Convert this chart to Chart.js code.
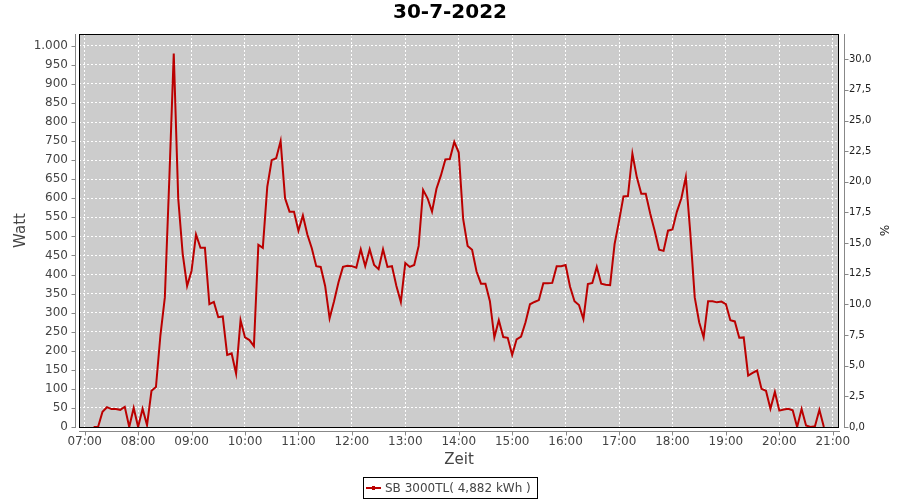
<!DOCTYPE html>
<html lang="de">
<head>
<meta charset="utf-8">
<title>30-7-2022</title>
<script src="https://cdn.jsdelivr.net/npm/chart.js@4.4.0/dist/chart.umd.min.js"></script>
<style>
  html, body { margin: 0; padding: 0; background: #fff; }
  #wrap { width: 900px; height: 500px; }
</style>
</head>
<body>
<div id="wrap"><canvas id="grafik" width="900" height="500"></canvas></div>
<script>
const titel = '30-7-2022';
const legendeText = 'SB 3000TL( 4,882 kWh )';
const stunden = ['07:00', '08:00', '09:00', '10:00', '11:00', '12:00', '13:00', '14:00',
    '15:00', '16:00', '17:00', '18:00', '19:00', '20:00', '21:00'];

// Messzeitpunkte (5-Minuten-Werte) und Leistung in Watt
const zeiten = [
    '07:10', '07:15', '07:20', '07:25', '07:30', '07:35', '07:40', '07:45', '07:50', '07:55',
    '08:00', '08:05', '08:10', '08:15', '08:20', '08:25', '08:30', '08:35', '08:40', '08:45', '08:50', '08:55',
    '09:00', '09:05', '09:10', '09:15', '09:20', '09:25', '09:30', '09:35', '09:40', '09:45', '09:50', '09:55',
    '10:00', '10:05', '10:10', '10:15', '10:20', '10:25', '10:30', '10:35', '10:40', '10:45', '10:50', '10:55',
    '11:00', '11:05', '11:10', '11:15', '11:20', '11:25', '11:30', '11:35', '11:40', '11:45', '11:50', '11:55',
    '12:00', '12:05', '12:10', '12:15', '12:20', '12:25', '12:30', '12:35', '12:40', '12:45', '12:50', '12:55',
    '13:00', '13:05', '13:10', '13:15', '13:20', '13:25', '13:30', '13:35', '13:40', '13:45', '13:50', '13:55',
    '14:00', '14:05', '14:10', '14:15', '14:20', '14:25', '14:30', '14:35', '14:40', '14:45', '14:50', '14:55',
    '15:00', '15:05', '15:10', '15:15', '15:20', '15:25', '15:30', '15:35', '15:40', '15:45', '15:50', '15:55',
    '16:00', '16:05', '16:10', '16:15', '16:20', '16:25', '16:30', '16:35', '16:40', '16:45', '16:50', '16:55',
    '17:00', '17:05', '17:10', '17:15', '17:20', '17:25', '17:30', '17:35', '17:40', '17:45', '17:50', '17:55',
    '18:00', '18:05', '18:10', '18:15', '18:20', '18:25', '18:30', '18:35', '18:40', '18:45', '18:50', '18:55',
    '19:00', '19:05', '19:10', '19:15', '19:20', '19:25', '19:30', '19:35', '19:40', '19:45', '19:50', '19:55',
    '20:00', '20:05', '20:10', '20:15', '20:20', '20:25', '20:30', '20:35', '20:40', '20:45', '20:50'
];
const watt = [
    0, 0, 40, 52, 47, 47, 45, 53, 0, 50,
    0, 48, 5, 95, 105, 240, 340, 650, 980, 600, 455, 370,
    410, 505, 470, 470, 322, 328, 288, 290, 189, 193, 140, 280,
    235, 228, 212, 478, 470, 630, 700, 705, 750, 600, 565, 565,
    515, 555, 505, 469, 422, 420, 370, 285, 330, 380, 420, 423,
    422, 418, 466, 422, 466, 425, 414, 466, 420, 422, 370, 328,
    430, 420, 425, 475, 622, 600, 565, 625, 660, 702, 703, 748,
    720, 545, 475, 465, 408, 376, 376, 330, 235, 280, 236, 234,
    189, 230, 237, 275, 322, 328, 333, 377, 377, 378, 422, 422,
    425, 368, 330, 320, 283, 375, 378, 420, 376, 373, 372, 480,
    540, 605, 606, 717, 655, 612, 612, 560, 515, 465, 462, 515,
    518, 565, 600, 656, 510, 340, 275, 235, 330, 330, 327, 329,
    322, 280, 277, 234, 235, 135, 142, 148, 100, 95, 48, 92,
    43, 46, 48, 44, 0, 47, 4, 0, 2, 45, 0
];

const ROT = '#bb0000';
const GRAU_TEXT = '#444444';
const GRAU_ACHSE = '#888888';

Chart.defaults.font.family = '"DejaVu Sans", sans-serif';

function minuten(hhmm) {
    const [h, m] = hhmm.split(':').map(Number);
    return h * 60 + m;
}

function tausender(v) {
    return v >= 1000 ? Math.floor(v / 1000) + '.' + String(v % 1000).padStart(3, '0') : String(v);
}

const punkte = zeiten.map((z, i) => ({ x: minuten(z), y: watt[i] }));

// Plotfläche, Rahmen, versetzte Achsen und Legende im JFreeChart-Stil
const jfreeStil = {
    id: 'jfreeStil',
    beforeDraw(chart) {
        const { ctx, chartArea: a } = chart;
        ctx.save();
        ctx.fillStyle = '#cccccc';
        ctx.fillRect(a.left, a.top, a.right - a.left, a.bottom - a.top);
        ctx.restore();
    },
    afterDraw(chart) {
        const { ctx, chartArea: a, scales } = chart;
        ctx.save();
        ctx.lineWidth = 1;
        ctx.strokeStyle = '#000';
        ctx.strokeRect(a.left + 0.5, a.top + 0.5, a.right - a.left - 1, a.bottom - a.top);

        ctx.strokeStyle = GRAU_ACHSE;
        ctx.beginPath();
        // linke Achse
        const xl = a.left - 3.5;
        ctx.moveTo(xl, a.top); ctx.lineTo(xl, a.bottom + 1);
        scales.y.ticks.forEach(t => {
            const y = Math.round(scales.y.getPixelForValue(t.value)) + 0.5;
            ctx.moveTo(xl - 4, y); ctx.lineTo(xl, y);
        });
        // rechte Achse
        const xr = a.right + 5.5;
        ctx.moveTo(xr, a.top); ctx.lineTo(xr, a.bottom + 1);
        scales.y1.ticks.forEach(t => {
            const y = Math.round(scales.y1.getPixelForValue(t.value)) + 0.5;
            ctx.moveTo(xr, y); ctx.lineTo(xr + 4, y);
        });
        // Zeitachse
        const yb = a.bottom + 4.5;
        ctx.moveTo(a.left, yb); ctx.lineTo(a.right + 1, yb);
        scales.x.ticks.forEach(t => {
            const x = Math.round(scales.x.getPixelForValue(t.value)) + 0.5;
            ctx.moveTo(x, yb); ctx.lineTo(x, yb + 4);
        });
        ctx.stroke();

        // Legende
        const lx = 363.5, ly = 477.5;
        ctx.strokeStyle = '#000';
        ctx.strokeRect(lx, ly, 174, 21);
        ctx.strokeStyle = ROT;
        ctx.lineWidth = 2;
        ctx.beginPath();
        ctx.moveTo(366, 488); ctx.lineTo(381, 488);
        ctx.stroke();
        ctx.fillStyle = ROT;
        ctx.fillRect(372, 486, 3, 4);
        ctx.fillStyle = GRAU_TEXT;
        ctx.font = '12px "DejaVu Sans"';
        ctx.textBaseline = 'middle';
        ctx.textAlign = 'left';
        ctx.fillText(legendeText, 385, 488.5);
        ctx.restore();
    }
};

new Chart(document.getElementById('grafik').getContext('2d'), {
    type: 'line',
    data: {
        datasets: [{
            label: legendeText,
            data: punkte,
            borderColor: ROT,
            backgroundColor: ROT,
            borderWidth: 2,
            pointRadius: 0,
            tension: 0,
            fill: false,
            yAxisID: 'y'
        }]
    },
    options: {
        responsive: false,
        animation: false,
        layout: { padding: 0 },
        plugins: {
            legend: { display: false },
            tooltip: { enabled: false },
            title: {
                display: true, text: titel, color: '#000',
                font: { size: 20, weight: 'bold' },
                padding: { top: 1, bottom: 9 }
            }
        },
        scales: {
            x: {
                type: 'linear',
                min: minuten('07:00') - 6.4,
                max: minuten('21:00') + 7,
                afterBuildTicks: s => { s.ticks = stunden.map(h => ({ value: minuten(h) })); },
                afterFit: s => { s.height = 73; },
                ticks: {
                    callback: (v, i) => stunden[i],
                    color: GRAU_TEXT, font: { size: 12 }, padding: 8,
                    autoSkip: false, maxRotation: 0
                },
                grid: { color: '#ffffff', lineWidth: 1, drawTicks: false },
                border: { display: false, dash: [2, 2] },
                title: {
                    display: true, text: 'Zeit', color: GRAU_TEXT,
                    font: { size: 15 }, padding: { top: 0, bottom: 31 }
                }
            },
            y: {
                position: 'left',
                min: 0, max: 1031,
                afterFit: s => { s.width = 79; },
                ticks: {
                    stepSize: 50, includeBounds: false,
                    callback: v => tausender(v),
                    color: GRAU_TEXT, font: { size: 12 }, padding: 11
                },
                grid: { color: '#ffffff', lineWidth: 1, drawTicks: false },
                border: { display: false, dash: [2, 2] },
                title: {
                    display: true, text: 'Watt', color: GRAU_TEXT,
                    font: { size: 15 }, padding: { top: 12, bottom: 0 }
                }
            },
            y1: {
                position: 'right',
                min: 0, max: 32.06,
                afterFit: s => { s.width = 61; },
                ticks: {
                    stepSize: 2.5, includeBounds: false,
                    callback: v => v.toFixed(1).replace('.', ','),
                    color: '#222222', font: { size: 10 }, padding: 10
                },
                grid: { display: false, drawTicks: false },
                border: { display: false },
                title: {
                    display: true, text: '%', color: '#222222',
                    font: { size: 12 }, padding: { top: 10, bottom: 0 }
                }
            }
        }
    },
    plugins: [jfreeStil]
});
</script>
</body>
</html>
